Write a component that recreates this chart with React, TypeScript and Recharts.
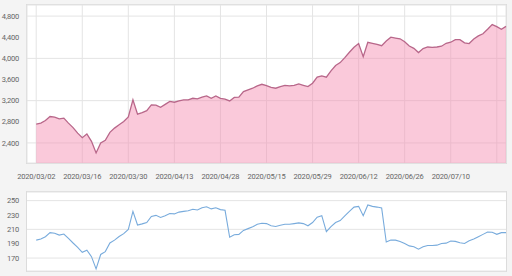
import { AreaChart, Area, LineChart, Line, XAxis, YAxis, CartesianGrid } from "recharts";

// trading days (KRX calendar), 2020/03/02 .. 2020/07/28
const dates = [
  "2020/03/02", "2020/03/03", "2020/03/04", "2020/03/05", "2020/03/06",
  "2020/03/09", "2020/03/10", "2020/03/11", "2020/03/12", "2020/03/13",
  "2020/03/16", "2020/03/17", "2020/03/18", "2020/03/19", "2020/03/20",
  "2020/03/23", "2020/03/24", "2020/03/25", "2020/03/26", "2020/03/27",
  "2020/03/30", "2020/03/31", "2020/04/01", "2020/04/02", "2020/04/03",
  "2020/04/06", "2020/04/07", "2020/04/08", "2020/04/09", "2020/04/10",
  "2020/04/13", "2020/04/14", "2020/04/16", "2020/04/17", "2020/04/20",
  "2020/04/21", "2020/04/22", "2020/04/23", "2020/04/24", "2020/04/27",
  "2020/04/28", "2020/04/29", "2020/05/04", "2020/05/06", "2020/05/07",
  "2020/05/08", "2020/05/11", "2020/05/12", "2020/05/13", "2020/05/14",
  "2020/05/15", "2020/05/18", "2020/05/19", "2020/05/20", "2020/05/21",
  "2020/05/22", "2020/05/25", "2020/05/26", "2020/05/27", "2020/05/28",
  "2020/05/29", "2020/06/01", "2020/06/02", "2020/06/03", "2020/06/04",
  "2020/06/05", "2020/06/08", "2020/06/09", "2020/06/10", "2020/06/11",
  "2020/06/12", "2020/06/15", "2020/06/16", "2020/06/17", "2020/06/18",
  "2020/06/19", "2020/06/22", "2020/06/23", "2020/06/24", "2020/06/25",
  "2020/06/26", "2020/06/29", "2020/06/30", "2020/07/01", "2020/07/02",
  "2020/07/03", "2020/07/06", "2020/07/07", "2020/07/08", "2020/07/09",
  "2020/07/10", "2020/07/13", "2020/07/14", "2020/07/15", "2020/07/16",
  "2020/07/17", "2020/07/20", "2020/07/21", "2020/07/22", "2020/07/23",
  "2020/07/24", "2020/07/27", "2020/07/28",
];

const price = [
  2756, 2775, 2825, 2900, 2890, 2855, 2870, 2775, 2690, 2585,
  2500, 2570, 2430, 2210, 2400, 2450, 2600, 2680, 2745, 2805,
  2890, 3215, 2945, 2975, 3010, 3120, 3115, 3075, 3130, 3185,
  3170, 3195, 3215, 3215, 3245, 3235, 3265, 3290, 3245, 3290,
  3245, 3230, 3195, 3260, 3265, 3370, 3405, 3435, 3480, 3510,
  3485, 3450, 3435, 3465, 3490, 3480, 3490, 3515, 3490, 3465,
  3530, 3645, 3670, 3645, 3765, 3865, 3920, 4015, 4115, 4210,
  4280, 4033, 4305, 4285, 4265, 4240, 4330, 4400, 4385, 4370,
  4315, 4235, 4190, 4110, 4185, 4215, 4210, 4215, 4230, 4285,
  4305, 4355, 4355, 4295, 4280, 4365, 4425, 4465, 4550, 4640,
  4600, 4550, 4605,
];

const ratio = [
  195, 196.5, 199.8, 205.4, 204.5, 202, 203.5, 197.4, 191, 185,
  178, 181, 172, 155, 175, 179, 191, 195, 200, 204,
  210, 235, 216, 217.6, 219.5, 228, 229.5, 226.5, 229, 232,
  231.5, 234, 235, 236, 238, 237, 240, 241.5, 238.5, 240,
  237.5, 236.5, 199, 202.5, 203, 208.5, 211, 213.5, 217, 218.5,
  218, 215, 214, 215.7, 217, 217, 218, 219, 218, 215,
  219.5, 227, 229, 206.8, 213.8, 219.5, 222.3, 228.9, 235, 241,
  242, 229, 244, 242, 241, 239.7, 192.3, 195, 195, 193.2,
  190.4, 187, 185.7, 182.4, 185.7, 187.6, 187.6, 188, 190.4, 190.8,
  193.7, 193.2, 191.3, 190.4, 194.1, 196.5, 199.8, 203, 206.3, 205.9,
  203, 205.4, 205.4,
];

const xTicks = [0, 10, 20, 30, 40, 50, 60, 70, 80, 90, 100];
const priceTicks = [2400, 2800, 3200, 3600, 4000, 4400, 4800];
const ratioTicks = [170, 190, 210, 230, 250];

const chartData = dates.map((d, i) => ({ i, date: d, price: price[i], ratio: ratio[i] }));

const tickStyle = { fontSize: 7.5, fill: "#666", fontFamily: "Roboto", letterSpacing: -0.2 };

function fmtDate(v: number) {
  // last grid line (07/24) has no label in the original
  return v <= 90 ? dates[v] ?? "" : "";
}

export default function App() {
  return (
    <div style={{ position: "absolute", left: 0, top: 0, width: 512, height: 276, background: "#f4f4f4" }}>
      {/* plot backgrounds + borders */}
      <div style={{ position: "absolute", left: 27, top: 5, width: 479, height: 158, background: "#fff", outline: "1px solid #dcdcdc" }} />
      <div style={{ position: "absolute", left: 27, top: 192, width: 479, height: 79, background: "#fff", outline: "1px solid #dcdcdc" }} />

      <div style={{ position: "absolute", left: 0, top: 0 }}>
        <AreaChart width={512} height={185} data={chartData} margin={{ top: 5, right: 6, left: 0, bottom: 0 }}>
          <CartesianGrid stroke="#e4e4e4" />
          <XAxis
            dataKey="i"
            type="number"
            domain={[-2, 102]}
            ticks={xTicks}
            tickFormatter={fmtDate}
            tick={tickStyle}
            axisLine={false}
            tickLine={false}
            tickSize={0}
            tickMargin={11}
            height={22}
            interval={0}
          />
          <YAxis
            domain={[2020, 5010]}
            ticks={priceTicks}
            tickFormatter={(v) => v.toLocaleString("en-US")}
            tick={tickStyle}
            axisLine={false}
            tickLine={false}
            tickSize={0}
            tickMargin={8}
            width={27}
          />
          <Area
            type="linear"
            dataKey="price"
            stroke="#b8678a"
            strokeWidth={1.3}
            fill="#f48fb1"
            fillOpacity={0.48}
            dot={false}
            isAnimationActive={false}
          />
        </AreaChart>
      </div>

      <div style={{ position: "absolute", left: 0, top: 185 }}>
        <LineChart width={512} height={91} data={chartData} margin={{ top: 7, right: 6, left: 0, bottom: 5 }}>
          <CartesianGrid stroke="#e4e4e4" vertical={false} />
          <XAxis dataKey="i" type="number" domain={[-2, 102]} hide />
          <YAxis
            domain={[152, 262]}
            ticks={ratioTicks}
            tick={tickStyle}
            axisLine={false}
            tickLine={false}
            tickSize={0}
            tickMargin={8}
            width={27}
          />
          <Line
            type="linear"
            dataKey="ratio"
            stroke="#78abdc"
            strokeWidth={1.1}
            dot={false}
            isAnimationActive={false}
          />
        </LineChart>
      </div>
    </div>
  );
}
